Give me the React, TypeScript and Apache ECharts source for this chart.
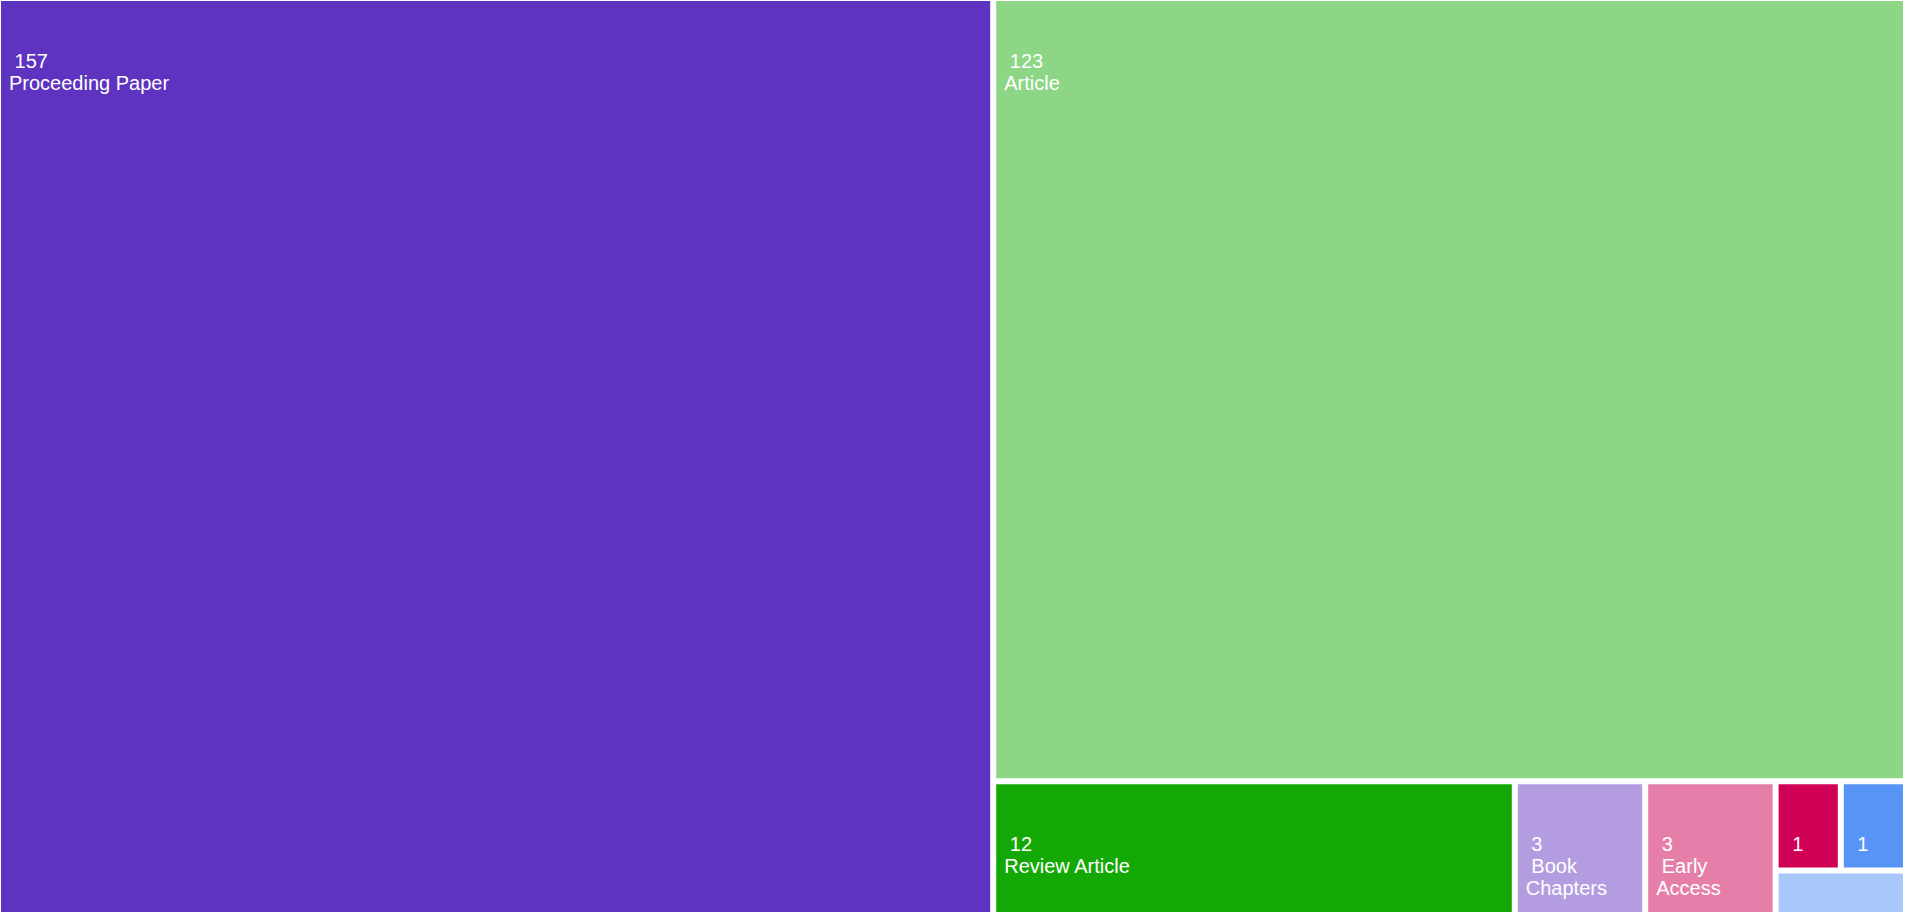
import React, { useEffect, useRef } from "react";
import * as echarts from "echarts";

const categories = [
  "Proceeding Paper",
  "Article",
  "Review Article",
  "Book Chapters",
  "Early Access",
  "Editorial Material",
  "Letter",
  "Meeting Abstract",
];
const counts = [157, 123, 12, 3, 3, 1, 1, 1];
const colors = [
  "#5E33BF",
  "#8CD685",
  "#14A806",
  "#B39DE0",
  "#E57FA9",
  "#D10057",
  "#5894F5",
  "#A9C8FA",
];
// which boxes show the category name (wrapped or not), and which show a label at all
const showName = [true, true, true, true, true, false, false, false];
const wrapName = [false, false, false, true, true, false, false, false];
const showLabel = [true, true, true, true, true, true, true, false];

export default function App() {
  const ref = useRef<HTMLDivElement>(null);
  useEffect(() => {
    document.body.style.margin = "0";
    const chart = echarts.init(ref.current!, null, { renderer: "svg" });
    const data = categories.map((name, i) => ({
      name,
      value: counts[i],
      itemStyle: { color: colors[i] },
      label: { show: showLabel[i] },
    }));
    chart.setOption({
      animation: false,
      tooltip: { show: true },
      series: [
        {
          type: "treemap",
          left: 1,
          top: 1,
          width: 1902,
          height: 911,
          roam: false,
          nodeClick: false,
          sort: false,
          breadcrumb: { show: false },
          squareRatio: 0.5 * (1 + Math.sqrt(5)),
          itemStyle: { gapWidth: 6, borderWidth: 0, borderColor: "#fff" },
          label: {
            show: true,
            position: [8, 49],
            padding: 0,
            color: "#fff",
            fontFamily: "Liberation Sans, Arial, sans-serif",
            fontSize: 20,
            lineHeight: 22,
            overflow: "none",
            formatter: (p: any) => {
              const i = categories.indexOf(p.name);
              if (!showName[i]) return ` ${p.value}`;
              const nm = wrapName[i] ? " " + String(p.name).replace(" ", "\n") : p.name;
              return ` ${p.value}\n${nm}`;
            },
          },
          data,
        },
      ],
    });
    return () => chart.dispose();
  }, []);
  return (
    <div
      ref={ref}
      style={{ position: "absolute", left: 0, top: 0, width: 1906, height: 916, background: "#fff" }}
    />
  );
}
